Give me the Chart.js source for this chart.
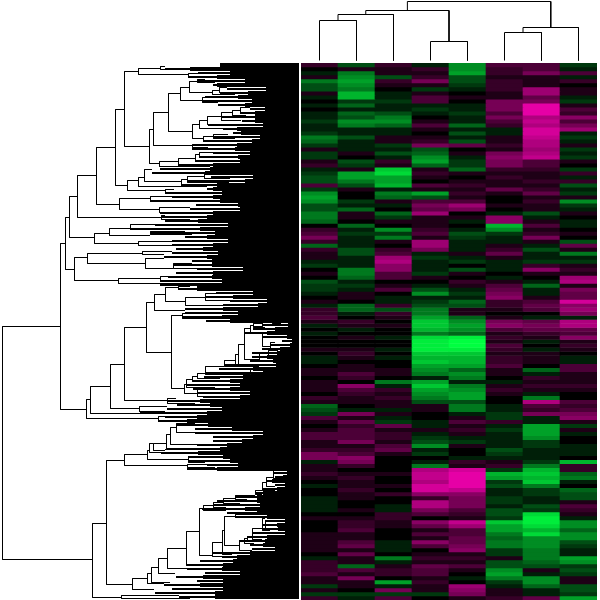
<!DOCTYPE html>
<html>
<head>
<meta charset="utf-8">
<title>Clustered heatmap</title>
<script src="https://cdn.jsdelivr.net/npm/chart.js@4"></script>
<style>
    html, body { margin: 0; padding: 0; background: #fff; }
    canvas { position: absolute; display: block; }
    #rowTree { left: 0; top: 63px; }
    #colTree { left: 301px; top: 0; }
    #heat { left: 301px; top: 63px; }
</style>
</head>
<body>
<canvas id="rowTree" width="299" height="537"></canvas>
<canvas id="colTree" width="296" height="63"></canvas>
<canvas id="heat" width="296" height="537"></canvas>
<script>
const samples = ['S1', 'S2', 'S3', 'S4', 'S5', 'S6', 'S7', 'S8'];

// Log ratio per row band, negative = green, positive = magenta
const col1 = [
    2,0,-1,1,-5,-3,-3,1,-1,0, -1,0,-1,-1,-2,-1,-1,-2,-5,-4,
    -2,1,-2,-2,1,2,-1,-2,-3,-3, 3,-2,-6,-7,-6,-3,-3,-5,-5,-4,
    0,2,3,5,2,-4,2,1,1,-1, -2,0,1,0,-3,-2,-2,-1,0,1,
    -1,2,2,3,1,-1,0,-1,0,0, 0,1,0,-1,-1,0,1,1,0,1,
    1,1,0,2,1,-4,-3,-2,3,1, 0,1,3,3,1,1,2,5,5,-1,
    1,1,2,1,0,-1,0,0,-1,-1, -1,-1,0,1,0,0,0,1,1,1,
    1,1,0,-1,2,2,2,3,1,1, -2,1,-2,2
];
const col2 = [
    -3,1,-5,-6,-7,-6,-5,-8,-8,-2, -4,-1,-4,-3,-6,-5,-1,-1,-3,-1,
    -1,-1,1,0,-3,-2,1,-7,-7,-5, -3,1,0,0,-2,-1,-4,1,1,0,
    -4,-1,-2,-1,-1,-1,-3,-3,-1,-1, -1,-5,-5,-4,-1,-2,-1,1,1,0,
    -4,-4,-1,0,2,1,-1,0,1,0, 0,1,2,1,0,1,1,3,2,0,
    6,3,2,1,1,0,-1,5,1,4, 2,3,3,3,5,1,2,3,6,5,
    2,0,1,2,1,1,2,1,1,0, 0,1,0,1,2,2,3,1,1,3,
    4,1,4,1,1,-4,3,1,5,1, 1,0,-2,-1
];
const col3 = [
    2,1,1,-3,2,1,0,-1,-1,-2, -1,-1,-3,-5,-6,-4,-1,-1,1,1,
    -2,-1,-3,-1,2,1,-9,-10,-7,-7, -8,-1,-5,-4,1,-1,0,-4,-2,1,
    0,-6,-2,-5,1,0,2,3,7,8, 6,6,3,3,0,1,3,0,-1,-1,
    2,-3,2,1,0,1,0,0,-1,0, 0,-1,0,-1,0,0,1,1,0,-5,
    -1,2,1,2,1,1,-1,1,-1,-2, 4,1,2,2,1,3,4,1,0,0,
    0,0,1,0,0,1,0,2,0,0, -1,-1,2,2,1,1,0,0,0,-1,
    -1,-1,0,-5,-1,1,2,2,0,-7, -1,5,-2,3
];
const col4 = [
    -1,2,1,2,5,1,-2,1,3,3, -1,-2,-1,0,1,3,1,0,1,2,
    5,-3,-4,-6,-7,-4,1,2,1,0, 3,1,-7,-3,3,5,4,7,1,1,
    1,2,3,1,7,7,5,-1,-2,-1, -1,-1,-2,1,0,-1,-3,-6,-1,-2,
    -3,-5,-5,-7,-9,-9,-8,-5,-10,-11, -11,-11,-9,-8,-9,-7,-6,-5,-1,-7,
    -9,-7,-6,-5,-3,1,1,0,0,-1, -1,1,-1,-2,-3,-6,-1,-2,0,-1,
    -5,8,9,9,8,10,10,6,2,8, 8,5,3,0,6,4,1,3,1,6,
    3,0,1,2,1,4,3,3,1,2, 1,1,-2,0
];
const col5 = [
    -6,-6,-7,-3,-3,-2,-1,0,1,0, -1,-1,-2,-1,-1,-4,-1,-3,-1,-3,
    4,0,1,-1,-2,-2,-4,1,0,1, 2,1,2,1,3,7,5,0,1,-1,
    0,-1,-3,-2,-1,-1,-1,1,-1,-2, 0,-3,1,0,2,1,-1,-2,-1,-4,
    -3,1,1,-4,-6,-7,-6,-4,-11,-12, -12,-11,-9,-8,-8,-7,-4,-6,-5,-1,
    -5,-6,-7,-7,-3,-5,-5,-1,1,3, 1,2,1,-1,-2,1,0,0,-1,2,
    1,10,11,11,11,11,9,6,5,5, 5,3,2,1,9,7,3,3,4,4,
    5,6,1,2,1,3,1,0,-1,0, 7,6,5,1
];
const col6 = [
    3,2,2,1,2,2,2,1,1,5, 5,5,3,5,3,2,-1,-1,1,1,
    2,1,5,6,5,5,2,1,2,1, 1,4,1,0,0,1,0,-1,6,6,
    -8,-6,-2,-1,-1,1,2,4,1,-1, -1,-1,0,-1,1,3,4,5,6,2,
    2,1,0,1,5,6,3,1,2,1, 3,2,1,2,2,3,1,1,0,-1,
    1,2,1,0,0,-1,-1,-2,-2,2, -1,-2,-1,-1,-1,-1,-3,-2,-1,1,
    2,-2,-8,-7,-2,-3,-1,-1,-2,-2, -1,-3,-3,-2,-9,-7,-7,-5,-4,-5,
    -5,-2,-2,1,-3,-3,-6,-7,-5,-2, -1,1,1,2
];
const col7 = [
    3,3,5,1,1,1,7,7,4,5, 11,11,11,8,9,8,10,10,9,8,
    8,7,8,9,3,3,2,1,1,2, 1,2,4,1,2,1,1,-3,-1,1,
    3,1,2,5,1,-1,-3,-1,-1,-2, 2,6,1,0,-1,-4,-1,-1,1,3,
    4,3,0,-1,4,5,4,2,1,-1, 0,-1,1,1,1,0,-4,-1,2,1,
    2,1,-1,-5,8,3,2,5,-1,-1, -7,-7,-7,-6,-2,-2,-1,-1,-1,-2,
    -5,-8,-9,-8,-9,-5,-2,-2,-1,-1, -3,-2,-10,-11,-11,-10,-8,-10,-6,-6,
    -6,-5,-5,-5,-4,-3,1,-1,-6,-6, -4,-1,-1,4
];
const col8 = [
    -2,-1,3,-1,2,0,1,1,-1,-2, 1,3,2,6,3,5,7,-1,-2,-1,
    1,-2,-1,-2,1,0,-2,2,-1,2, -3,-1,-2,1,-6,-2,-1,1,0,-1,
    -1,0,1,0,-3,4,1,-5,-1,-2, 1,2,1,7,8,1,5,4,4,10,
    6,7,5,-1,8,8,4,3,6,1, 2,1,0,-1,-1,3,3,1,1,1,
    2,1,0,0,3,2,3,5,6,1, -2,1,-1,0,0,-1,-1,-1,0,-8,
    2,2,-4,-5,-1,0,-4,-3,-3,1, 3,2,1,-1,-6,-6,-4,-6,-6,-3,
    -2,-1,-1,-7,-6,-2,-3,-2,1,1, -3,-3,-2,-7
];
const columns = [col1, col2, col3, col4, col5, col6, col7, col8];

// Row tree: where each band's last merge starts, and where the leaves close up solid
const leafTip = [
    220,165,198,188,197,213,227,220,205,202,218,250,240,222,242,208,223,233,213,203,193,192,213,199,195,
    178,160,152,211,187,181,207,165,172,150,196,190,160,161,165,155,130,150,185,172,
    172,176,172,164,192,173,197,176,168,160,160,178,216,205,230,223,185,185,182,206,263,253,245,262,282,
    270,262,252,252,250,225,219,205,204,193,187,193,197,203,167,177,167,140,165,158,
    177,195,195,213,213,197,167,161,188,188,207,187,273,275,266,275,262,255,235,217,213,202,227,235,265,
    262,262,252,247,239,250,252,212,222,200,187,187,205,176,197,164,172,155,179
];
const leafSolid = [
    220,190,230,217,245,217,266,248,238,252,245,265,255,255,255,263,237,241,260,252,237,235,250,238,240,
    213,210,205,253,245,217,213,222,213,220,238,240,213,207,198,228,200,215,207,228,
    213,203,218,207,212,212,243,213,212,222,197,197,253,233,267,258,223,238,222,230,288,275,267,287,292,
    290,280,277,267,273,276,253,263,243,230,240,230,250,240,200,210,222,207,197,187,
    208,232,263,253,242,227,220,198,223,230,238,217,287,283,272,285,277,263,257,257,260,245,257,267,285,
    277,278,285,267,265,263,275,250,237,233,223,222,240,203,223,200,223,215,215
];

// Row tree merges: [height, top row, top child height, bottom row, bottom child height]
const upperMerges = [
    [2,326,60,559,92], [60,243,65,409,86], [65,217,69,269,74], [69,196,77,237,94], [77,175,96,217,161],
    [96,147,115,204,119], [115,109,124,185,127], [124,71,138,146,149], [138,68,160,74,188],
    [160,66,165,69,190], [188,73,210,77,207], [149,129,153,163,159], [153,112,168,145,192],
    [168,93,180,131,192], [180,87,189,100,202], [189,81,197,92,212], [197,79,205,82,215],
    [212,90,219,94,235], [219,87,227,92,240], [202,97,205,102,218], [192,124,199,138,203],
    [199,120,207,128,223], [207,116,221,124,237], [221,112,232,120,241], [232,110,240,115,246],
    [240,107,250,112,255], [203,136,213,141,225], [213,134,228,138,235], [192,144,205,147,208],
    [159,161,178,166,210], [178,158,195,164,208], [195,154,199,161,213], [199,152,213,157,225],
    [127,180,138,190,165], [138,177,144,186,207], [144,169,152,181,181], [181,179,187,184,205],
    [187,176,204,182,229], [204,173,211,178,230], [165,189,174,193,174], [119,198,150,209,159],
    [150,196,172,200,196], [159,207,190,212,190], [161,215,165,219,190], [94,233,109,243,138],
    [109,228,130,235,150], [130,224,155,228,178], [150,231,185,234,192], [138,241,172,245,176],
    [74,257,87,280,118], [87,253,142,263,145], [142,251,172,254,164], [145,258,164,268,173],
    [173,263,192,268,197], [118,278,160,283,197], [160,276,168,280,198]
];
const middleMerges = [
    [86,399,90,418,158], [90,386,110,413,167], [110,364,124,408,139], [124,327,146,400,167],
    [146,302,154,352,171], [154,294,165,310,185], [165,287,178,301,185], [185,297,205,305,223],
    [205,293,216,300,230], [178,286,190,289,215], [139,406,167,411,165], [167,398,176,403,195],
    [158,416,165,420,177], [171,315,182,388,184], [182,313,205,318,262], [262,320,272,326,253],
    [272,319,278,323,281], [253,323,262,327,265], [250,325,253,332,262], [244,328,250,359,259],
    [244,333,262,333,262], [262,333,282,346,270], [270,342,275,350,278], [259,353,268,361,262],
    [268,350,278,355,280], [238,344,244,364,250], [235,354,238,365,262], [224,360,235,366,259],
    [205,366,224,374,250], [250,369,260,374,265], [197,373,205,378,220], [192,376,197,381,225],
    [186,379,192,387,215], [184,384,186,393,197], [197,389,203,396,215]
];
const lowerMerges = [
    [92,523,106,597,121], [121,595,179,598,190], [106,460,124,584,132], [124,454,147,465,187],
    [147,450,149,459,188], [149,443,153,452,161], [153,443,166,450,165], [166,434,170,449,165],
    [170,427,176,444,197], [176,423,195,432,195], [188,456,207,462,205], [187,464,207,467,215],
    [132,578,147,589,154], [147,573,151,583,164], [151,567,158,582,170], [158,558,167,573,175],
    [167,548,186,568,187], [186,531,199,565,200], [199,508,203,555,212], [203,505,213,510,226],
    [213,502,223,507,226], [223,498,235,503,240], [235,495,255,499,247], [255,490,262,494,262],
    [262,482,266,490,275], [266,477,273,486,275], [273,468,278,478,283], [212,542,222,556,235],
    [222,530,224,554,232], [224,516,235,545,239], [235,514,265,517,246], [239,541,244,550,252],
    [244,538,247,543,254], [247,536,252,541,260], [252,528,262,539,262], [262,518,265,530,270],
    [265,520,275,528,278]
];

// Column tree merges: [left position, left base, right position, right base, height]
const columnMerges = [
    [0.5,2.5,1.5,2.5,42.5], [1,42.5,2.5,2.5,48.5], [3.5,2.5,4.5,2.5,21.5], [1.75,48.5,4,21.5,52.5],
    [5.5,2.5,6.5,2.5,30.5], [6,30.5,7.5,2.5,35.5], [2.875,52.5,6.75,35.5,61.5]
];

/** Green to black to magenta, slightly lifted in the dark range */
function heatColor(v) {
    if (v < 0) {
        const g = Math.round(255 * Math.pow(Math.min(-v, 12) / 12, 0.85));
        return `rgb(0,${g},${Math.round(g * 0.25)})`;
    }
    const m = Math.round(230 * Math.pow(Math.min(v, 11) / 11, 0.85));
    return `rgb(${m},0,${Math.round(m * 0.72)})`;
}

/** Snap to pixel centre so the 1px tree lines stay crisp */
const snap = v => Math.round(v) + 0.5;

const gap = { x: null, y: null };

function hiddenScale(min, max, reverse) {
    return { type: 'linear', display: false, min: min, max: max, reverse: !!reverse };
}

const baseOptions = {
    responsive: false,
    animation: false,
    events: [],
    layout: { padding: 0 },
    plugins: { legend: { display: false }, tooltip: { enabled: false } }
};

function renderRowTree() {
    const treePoints = [];
    [...upperMerges, ...middleMerges, ...lowerMerges].forEach(m => {
        treePoints.push(
            { x: m[2], y: snap(m[1]) }, { x: snap(m[0]), y: snap(m[1]) },
            { x: snap(m[0]), y: snap(m[3]) }, { x: m[4], y: snap(m[3]) }, gap
        );
    });

    const solidPoints = [];
    const tipPoints = [];
    leafSolid.forEach((start, i) => {
        solidPoints.push({ x: start, y: i + 0.5 }, { x: 299, y: i + 0.5 }, gap);
        tipPoints.push({ x: leafTip[i], y: i + 0.5 }, { x: start, y: i + 0.5 }, gap);
    });

    const lineStyle = { showLine: true, pointRadius: 0, borderColor: '#000', spanGaps: false, tension: 0 };

    new Chart(document.getElementById('rowTree').getContext('2d'), {
        type: 'scatter',
        data: {
            datasets: [
                { ...lineStyle, data: solidPoints, borderWidth: 4, yAxisID: 'yRow' },
                { ...lineStyle, data: tipPoints, borderWidth: 2, yAxisID: 'yRow' },
                { ...lineStyle, data: treePoints, borderWidth: 1, yAxisID: 'y' }
            ]
        },
        options: {
            ...baseOptions,
            scales: {
                x: hiddenScale(0, 299),
                y: hiddenScale(63, 600, true),
                yRow: hiddenScale(0, 134.25, true)
            }
        }
    });
}

function renderColTree() {
    const points = [];
    columnMerges.forEach(m => {
        points.push(
            { x: m[0], y: m[1] }, { x: m[0], y: m[4] },
            { x: m[2], y: m[4] }, { x: m[2], y: m[3] }, gap
        );
    });

    new Chart(document.getElementById('colTree').getContext('2d'), {
        type: 'scatter',
        data: {
            datasets: [{
                data: points,
                showLine: true,
                pointRadius: 0,
                borderColor: '#000',
                borderWidth: 1,
                spanGaps: false
            }]
        },
        options: {
            ...baseOptions,
            scales: { x: hiddenScale(0, 8), y: hiddenScale(0, 63) }
        }
    });
}

function renderHeat() {
    // One stacked dataset per row band, coloured cell by cell
    const datasets = col1.map((_, row) => ({
        data: samples.map(() => 1),
        backgroundColor: columns.map(col => heatColor(col[row])),
        borderWidth: 0,
        barPercentage: 1,
        categoryPercentage: 1
    }));

    new Chart(document.getElementById('heat').getContext('2d'), {
        type: 'bar',
        data: { labels: samples, datasets: datasets },
        options: {
            ...baseOptions,
            scales: {
                x: { display: false, stacked: true },
                y: { ...hiddenScale(0, col1.length, true), stacked: true }
            }
        }
    });
}

renderRowTree();
renderColTree();
renderHeat();
</script>
</body>
</html>
